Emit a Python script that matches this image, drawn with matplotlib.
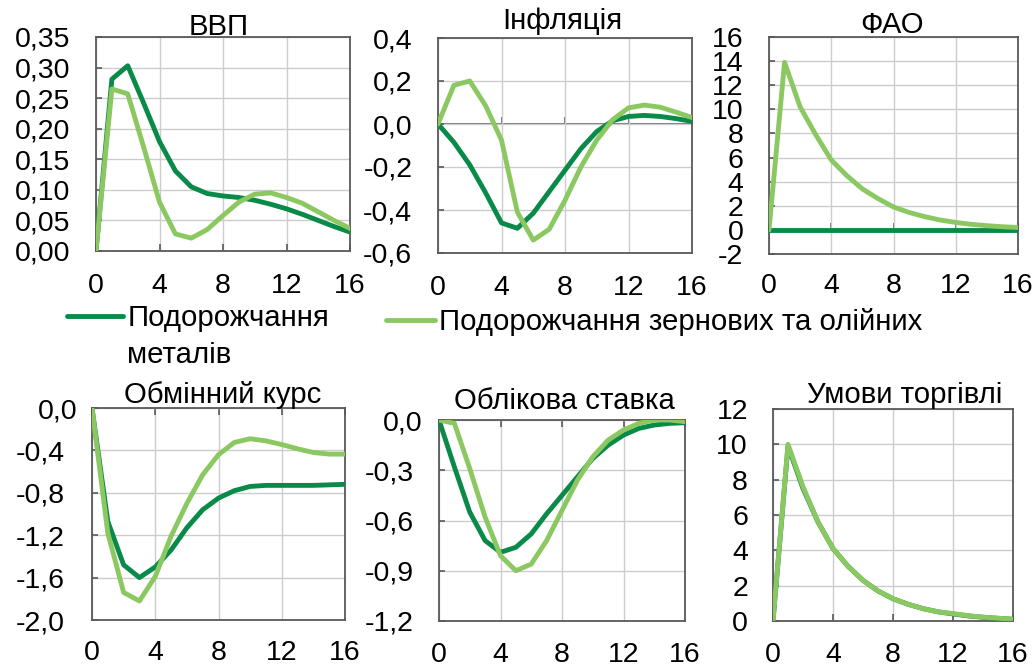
import matplotlib
matplotlib.use('Agg')
import matplotlib.pyplot as plt
from matplotlib.transforms import ScaledTranslation

plt.rcParams['font.family'] = ['Liberation Sans', 'DejaVu Sans']

# quarters after the shock
quarters = list(range(17))

gdp_metal = [0, 0.281, 0.303, 0.242, 0.179, 0.131, 0.105, 0.094, 0.090, 0.0875,
             0.083, 0.0765, 0.069, 0.060, 0.050, 0.040, 0.031]
gdp_grain = [0, 0.265, 0.257, 0.17, 0.08, 0.028, 0.021, 0.035, 0.058, 0.080,
             0.093, 0.095, 0.0875, 0.078, 0.064, 0.050, 0.037]

infl_metal = [0, -0.085, -0.19, -0.32, -0.46, -0.485, -0.415, -0.315, -0.215,
              -0.115, -0.035, 0.015, 0.035, 0.04, 0.035, 0.025, 0.012]
infl_grain = [0, 0.18, 0.2, 0.085, -0.075, -0.41, -0.54, -0.49, -0.355, -0.2,
              -0.075, 0.02, 0.075, 0.088, 0.078, 0.055, 0.03]

fao_metal = [0, 0, 0, 0, 0, 0, 0, 0, 0, 0, 0, 0, 0, 0, 0, 0, 0]
fao_grain = [0, 13.9, 10.2, 7.9, 5.8, 4.5, 3.4, 2.6, 1.9, 1.45, 1.1, 0.82,
             0.62, 0.46, 0.35, 0.26, 0.2]

fx_metal = [0, -1.07, -1.48, -1.6, -1.5, -1.34, -1.13, -0.96, -0.85, -0.78,
            -0.74, -0.73, -0.73, -0.73, -0.73, -0.725, -0.72]
fx_grain = [0, -1.18, -1.74, -1.82, -1.59, -1.21, -0.9, -0.63, -0.44, -0.325,
            -0.29, -0.31, -0.345, -0.385, -0.42, -0.435, -0.435]

rate_metal = [0, -0.28, -0.55, -0.72, -0.79, -0.76, -0.68, -0.56, -0.45, -0.34,
              -0.23, -0.15, -0.09, -0.05, -0.03, -0.02, -0.016]
rate_grain = [0, -0.02, -0.29, -0.58, -0.81, -0.9, -0.86, -0.72, -0.54, -0.36,
              -0.22, -0.12, -0.06, -0.02, 0.0, 0.0, -0.01]

tot_metal = [0, 9.9, 7.5, 5.6, 4.1, 3.1, 2.3, 1.7, 1.26, 0.95, 0.7, 0.52,
             0.4, 0.29, 0.21, 0.15, 0.1]
tot_grain = [0, 10.0, 7.6, 5.6, 4.1, 3.1, 2.3, 1.7, 1.26, 0.95, 0.7, 0.52,
             0.42, 0.3, 0.22, 0.16, 0.1]

xticks = [0, 4, 8, 12, 16]

label_metal = 'Подорожчання'
label_metal_2 = 'металів'
label_grain = 'Подорожчання зернових та олійних'

DARK = '#0A8A48'
LIGHT = '#8CC862'
SPINE = '#595959'
GRID = '#CCCCCC'
FS = 20.5      # tick labels
FS_TXT = 21.2  # titles and legend
LW = 3.5
W, H = 1036, 668


def fmt(v, dec):
    return f'{v:.{dec}f}'.replace('.', ',')


def panel(fig, rect_px, title, title_px, metal, grain, yticks, dec,
          zero_mode, ypad, xpad, zero_shift=0.0):
    x0, y0, x1, y1 = rect_px
    ax = fig.add_axes([x0 / W, 1 - y1 / H, (x1 - x0) / W, (y1 - y0) / H])
    l1, = ax.plot(quarters, metal, color=DARK, lw=LW, solid_capstyle='round',
                  solid_joinstyle='round', zorder=3)
    l2, = ax.plot(quarters, grain, color=LIGHT, lw=LW, solid_capstyle='round',
                  solid_joinstyle='round', zorder=4)
    ax.set_xlim(0, 16)
    ax.set_ylim(yticks[0], yticks[-1])
    ax.set_xticks(xticks)
    ax.set_xticklabels([str(t) for t in xticks])
    ax.set_yticks(yticks)
    ax.set_yticklabels([fmt(v, dec) for v in yticks])
    ax.grid(True, color=GRID, lw=1, zorder=0)
    ax.set_axisbelow(True)
    for s in ax.spines.values():
        s.set_color(SPINE)
        s.set_linewidth(1.3)
    ax.tick_params(axis='y', direction='in', length=4, width=1.2, color=SPINE,
                   labelsize=FS, pad=ypad)
    if zero_mode == 'bottom':
        ax.tick_params(axis='x', direction='in', length=5, width=1.2,
                       color=SPINE, labelsize=FS, pad=xpad)
    elif zero_mode == 'top':
        ax.tick_params(axis='x', direction='in', length=5, width=1.2,
                       color=SPINE, labelsize=FS, pad=xpad, top=True,
                       bottom=False, labelbottom=True, labeltop=False)
    else:
        ax.tick_params(axis='x', length=0, labelsize=FS, pad=xpad)
        sec = ax.secondary_xaxis(0, transform=ax.transData)
        sec.set_xticks(xticks)
        sec.tick_params(direction='in', length=5, width=1.2, color=SPINE,
                        labelbottom=False)
        sec.spines['bottom'].set_color(SPINE)
        sec.spines['bottom'].set_linewidth(1.2)
    if zero_shift:
        idx = yticks.index(0)
        lab = ax.yaxis.get_major_ticks()[idx].label1
        lab.set_transform(lab.get_transform() +
                          ScaledTranslation(zero_shift, 0, fig.dpi_scale_trans))
    fig.text(title_px[0] / W, 1 - title_px[1] / H, title, ha='center',
             va='baseline', fontsize=FS_TXT)
    return l1, l2


fig = plt.figure(figsize=(W / 100, H / 100), dpi=100)

l1, l2 = panel(fig, (96, 37, 350, 251), 'ВВП', (219, 35), gdp_metal, gdp_grain,
               [0, 0.05, 0.10, 0.15, 0.20, 0.25, 0.30, 0.35], 2, 'bottom', 18.5, 16)
panel(fig, (438, 38, 692, 253), 'Інфляція', (562, 29), infl_metal, infl_grain,
      [-0.6, -0.4, -0.2, 0, 0.2, 0.4], 1, 'inner', 18.5, 16)
panel(fig, (769, 37, 1018, 254), 'ФАО', (892, 33), fao_metal, fao_grain,
      [-2, 0, 2, 4, 6, 8, 10, 12, 14, 16], 0, 'inner', 18.5, 14)
panel(fig, (92, 408, 345, 620), 'Обмінний курс', (223, 403), fx_metal, fx_grain,
      [-2.0, -1.6, -1.2, -0.8, -0.4, 0], 1, 'top', 19.4, 14.5, zero_shift=0.12)
panel(fig, (439, 420, 685, 621), 'Облікова ставка', (564, 409), rate_metal,
      rate_grain, [-1.2, -0.9, -0.6, -0.3, 0], 1, 'top', 18, 15, zero_shift=0.08)
panel(fig, (773, 409, 1013, 621), 'Умови торгівлі', (905, 403), tot_metal,
      tot_grain, [0, 2, 4, 6, 8, 10, 12], 0, 'bottom', 18, 15)

# legend between the rows
fig.legend([l1], [label_metal], loc='center left', frameon=False,
           bbox_to_anchor=(67 / W, 1 - 318 / H), borderaxespad=0, borderpad=0,
           handlelength=1.9, handletextpad=0.15, fontsize=FS_TXT)
fig.text(127 / W, 1 - 363 / H, label_metal_2, ha='left', va='baseline',
         fontsize=FS_TXT)
fig.legend([l2], [label_grain], loc='center left', frameon=False,
           bbox_to_anchor=(386 / W, 1 - 322 / H), borderaxespad=0, borderpad=0,
           handlelength=1.66, handletextpad=0.15, fontsize=FS_TXT)

fig.savefig('out.png', dpi=100)
plt.close(fig)
